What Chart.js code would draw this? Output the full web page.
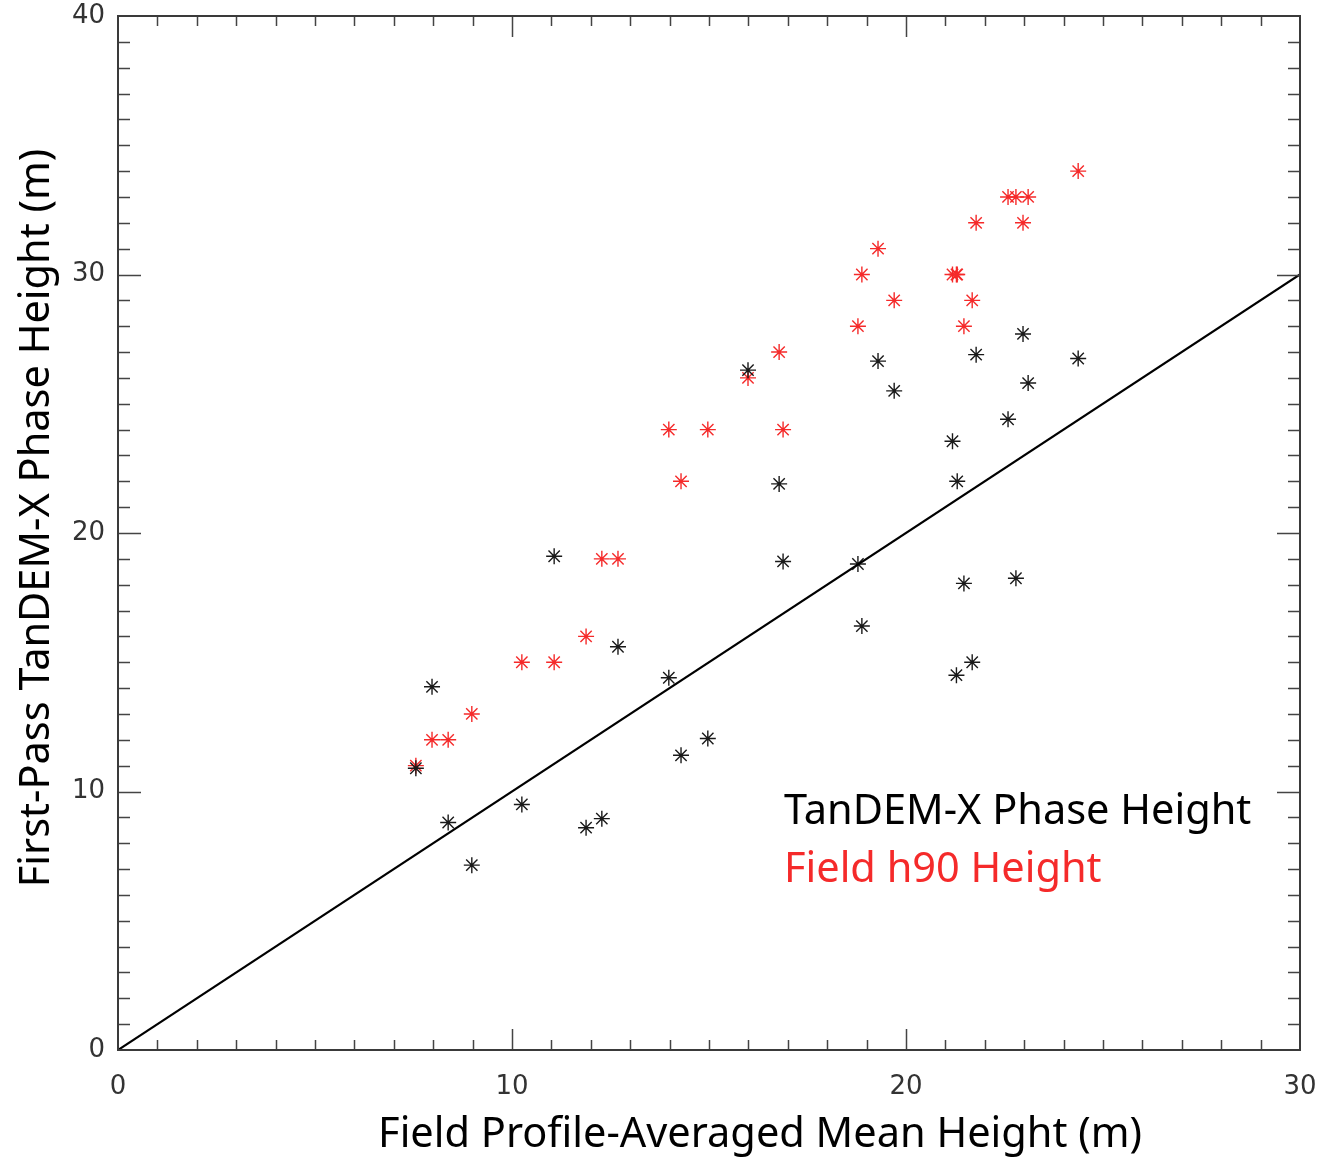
<!DOCTYPE html>
<html>
<head>
<meta charset="utf-8">
<script src="https://cdn.jsdelivr.net/npm/chart.js@4"></script>
<style>
  html, body { margin: 0; padding: 0; background: #fff; }
  #wrap { width: 1323px; height: 1163px; }
</style>
</head>
<body>
<div id="wrap"><canvas id="heightChart"></canvas></div>
<script>
// field profile-averaged mean height (m), one per plot
const fieldHeight = [7.56, 7.97, 8.38, 8.98, 10.25, 11.07, 11.88, 12.28, 12.69, 13.98,
    14.29, 14.97, 15.99, 16.78, 16.88, 18.78, 18.88, 19.29, 19.70, 21.18,
    21.28, 21.30, 21.47, 21.68, 21.78, 22.59, 22.79, 22.97, 23.10, 24.37];
// first-pass TanDEM-X phase height (m)
const tandemHeight = [10.9, 14.05, 8.8, 7.15, 9.5, 19.1, 8.6, 8.95, 15.6, 14.4,
    11.4, 12.05, 26.3, 21.9, 18.9, 18.8, 16.4, 26.65, 25.5, 23.55,
    14.5, 22.0, 18.05, 15.0, 26.9, 24.4, 18.25, 27.7, 25.8, 26.75];
// field h90 height (m)
const h90Height = [11.0, 12.0, 12.0, 13.0, 15.0, 15.0, 16.0, 19.0, 19.0, 24.0,
    22.0, 24.0, 26.0, 27.0, 24.0, 28.0, 30.0, 31.0, 29.0, 30.0,
    30.0, 30.0, 28.0, 29.0, 32.0, 33.0, 33.0, 32.0, 33.0, 34.0];
const oneToOne = [0, 30];

const xTicks = [0, 10, 20, 30];
const yTicks = [0, 10, 20, 30, 40];

const xTitle = 'Field Profile-Averaged Mean Height (m)';
const yTitle = 'First-Pass TanDEM-X Phase Height (m)';
const legendLabels = ['TanDEM-X Phase Height', 'Field h90 Height'];

const BLACK = '#1a1a1a';
const RED = '#f52a2a';

function toPoints(xs, ys) {
    return xs.map((x, i) => ({ x: x, y: ys[i] }));
}

// box, inward tick marks on all four sides, titles and text legend
const framePlugin = {
    id: 'frame',
    afterDraw(chart) {
        const ctx = chart.ctx;
        const area = chart.chartArea;
        const xs = chart.scales.x;
        const ys = chart.scales.y;
        ctx.save();

        ctx.strokeStyle = '#444';
        ctx.lineWidth = 1.5;
        for (let v = xs.min + 1; v < xs.max; v++) {
            const px = Math.round(xs.getPixelForValue(v)) + 0.5;
            const len = v % 10 === 0 ? 21 : 10;
            ctx.beginPath();
            ctx.moveTo(px, area.bottom); ctx.lineTo(px, area.bottom - len);
            ctx.moveTo(px, area.top); ctx.lineTo(px, area.top + len);
            ctx.stroke();
        }
        for (let v = ys.min + 1; v < ys.max; v++) {
            const py = Math.round(ys.getPixelForValue(v)) + 0.5;
            const len = v % 10 === 0 ? 23 : 12;
            ctx.beginPath();
            ctx.moveTo(area.left, py); ctx.lineTo(area.left + len, py);
            ctx.moveTo(area.right, py); ctx.lineTo(area.right - len, py);
            ctx.stroke();
        }

        ctx.lineWidth = 2;
        ctx.strokeStyle = '#3a3a3a';
        ctx.strokeRect(area.left, area.top, area.right - area.left, area.bottom - area.top);

        // axis titles
        ctx.fillStyle = '#000';
        ctx.font = '41.5px "Noto Sans"';
        ctx.textAlign = 'center';
        ctx.textBaseline = 'middle';
        ctx.fillText(xTitle, 760, 1135);
        ctx.save();
        ctx.translate(37, 518);
        ctx.rotate(-Math.PI / 2);
        ctx.fillText(yTitle, 0, 0);
        ctx.restore();

        // legend text
        ctx.textAlign = 'left';
        ctx.fillStyle = '#000';
        ctx.fillText(legendLabels[0], 784, 812);
        ctx.fillStyle = RED;
        ctx.fillText(legendLabels[1], 784, 870);

        ctx.restore();
    }
};

const ctx = document.getElementById('heightChart').getContext('2d');
new Chart(ctx, {
    type: 'scatter',
    data: {
        datasets: [
            {
                label: '1:1',
                type: 'line',
                data: toPoints(oneToOne, oneToOne),
                borderColor: '#000',
                borderWidth: 2.2,
                pointRadius: 0,
                fill: false
            },
            {
                label: legendLabels[0],
                data: toPoints(fieldHeight, tandemHeight),
                pointStyle: 'star',
                pointRadius: 8,
                borderColor: BLACK,
                backgroundColor: BLACK,
                pointBorderWidth: 1.4
            },
            {
                label: legendLabels[1],
                data: toPoints(fieldHeight, h90Height),
                pointStyle: 'star',
                pointRadius: 8,
                borderColor: RED,
                backgroundColor: RED,
                pointBorderWidth: 1.4
            }
        ]
    },
    options: {
        responsive: true,
        maintainAspectRatio: false,
        animation: false,
        layout: { padding: { top: 16, right: 23, left: 0, bottom: 0 } },
        plugins: {
            legend: { display: false },
            tooltip: { enabled: false }
        },
        scales: {
            x: {
                type: 'linear',
                min: 0,
                max: 30,
                afterBuildTicks: (scale) => { scale.ticks = xTicks.map(v => ({ value: v })); },
                afterFit: (scale) => {
                    scale.height = 113;
                    scale.paddingLeft = 0;
                    scale.paddingRight = 0;
                },
                grid: { display: false, drawTicks: false },
                border: { display: false },
                ticks: {
                    padding: 22,
                    color: '#333',
                    font: { family: 'DejaVu Sans', size: 26 },
                    maxRotation: 0
                }
            },
            y: {
                type: 'linear',
                min: 0,
                max: 40,
                afterBuildTicks: (scale) => { scale.ticks = yTicks.map(v => ({ value: v })); },
                afterFit: (scale) => {
                    scale.width = 118;
                    scale.paddingTop = 0;
                    scale.paddingBottom = 0;
                },
                grid: { display: false, drawTicks: false },
                border: { display: false },
                ticks: {
                    padding: 13,
                    color: '#333',
                    font: { family: 'DejaVu Sans', size: 26 }
                }
            }
        }
    },
    plugins: [framePlugin]
});
</script>
</body>
</html>
